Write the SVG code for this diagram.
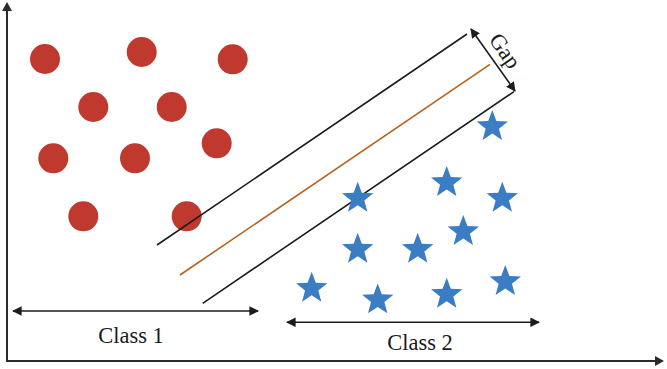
<svg xmlns="http://www.w3.org/2000/svg" xmlns:xlink="http://www.w3.org/1999/xlink" width="667" height="369" viewBox="0 0 667 369">
<style>
.dot{fill:#c0392f}
.star{fill:#3a7dc3}
.axis{stroke:#2b2b2b;stroke-width:2;fill:none}
.line{stroke:#1c1c1c;stroke-width:1.6;fill:none}
.mid{stroke:#b4621f;stroke-width:1.6;fill:none}
.lbl{font-family:"Liberation Serif","Times New Roman",serif;font-size:22.5px;fill:#1a1a1a}
</style>
<defs>
<marker id="ah" viewBox="0 0 10 10" refX="9" refY="5" markerWidth="6" markerHeight="6" orient="auto-start-reverse" markerUnits="strokeWidth">
<path d="M0,0 L10,5 L0,10 Z" fill="#1c1c1c"/>
</marker>
<path id="st" d="M0,-16.5 L4.11,-5.66 L15.69,-5.10 L6.66,2.16 L9.70,13.35 L0,7 L-9.70,13.35 L-6.66,2.16 L-15.69,-5.10 L-4.11,-5.66 Z"/>
</defs>
<rect width="667" height="369" fill="#ffffff"/>
<g id="axes">
<path class="axis" d="M7,8 L7,361 L658,361"/>
<path d="M7,2 L2,11 L12,11 Z" fill="#2b2b2b"/>
<path d="M664,361 L655,356 L655,366 Z" fill="#2b2b2b"/>
</g>
<g id="class1">
<circle id="c1" class="dot" cx="45" cy="59" r="15"/>
<circle id="c2" class="dot" cx="141.7" cy="52" r="15"/>
<circle id="c3" class="dot" cx="232.7" cy="59.3" r="15"/>
<circle id="c4" class="dot" cx="93.3" cy="107" r="15"/>
<circle id="c5" class="dot" cx="171.7" cy="107" r="15"/>
<circle id="c6" class="dot" cx="216.7" cy="143.3" r="15"/>
<circle id="c7" class="dot" cx="53.3" cy="158.3" r="15"/>
<circle id="c8" class="dot" cx="135" cy="158.3" r="15"/>
<circle id="c9" class="dot" cx="83.3" cy="216.3" r="15"/>
<circle id="c10" class="dot" cx="186.7" cy="216.3" r="15"/>
</g>
<g id="connectors">
<line class="line" x1="157" y1="245" x2="467" y2="34"/>
<line class="mid" x1="180" y1="275" x2="490" y2="64.3"/>
<line class="line" x1="202.7" y1="303.3" x2="514" y2="91.6"/>
<line class="line" x1="471" y1="29" x2="515" y2="91" marker-start="url(#ah)" marker-end="url(#ah)" stroke-width="1.8"/>
<line class="line" x1="13" y1="311" x2="258" y2="311" marker-start="url(#ah)" marker-end="url(#ah)" stroke-width="1.8"/>
<line class="line" x1="287" y1="322.3" x2="539" y2="322.3" marker-start="url(#ah)" marker-end="url(#ah)" stroke-width="1.8"/>
</g>
<g id="class2">
<use id="s1" class="star" xlink:href="#st" x="492.3" y="126.6"/>
<use id="s2" class="star" xlink:href="#st" x="446.7" y="182.6"/>
<use id="s3" class="star" xlink:href="#st" x="357.7" y="198.3"/>
<use id="s4" class="star" xlink:href="#st" x="502.3" y="198.3"/>
<use id="s5" class="star" xlink:href="#st" x="463.3" y="231.6"/>
<use id="s6" class="star" xlink:href="#st" x="357.7" y="249.3"/>
<use id="s7" class="star" xlink:href="#st" x="417.7" y="249.3"/>
<use id="s8" class="star" xlink:href="#st" x="311.7" y="288.3"/>
<use id="s9" class="star" xlink:href="#st" x="377.7" y="299.9"/>
<use id="s10" class="star" xlink:href="#st" x="446.7" y="294.3"/>
<use id="s11" class="star" xlink:href="#st" x="505.3" y="281.6"/>
</g>
<g id="labels">
<text class="lbl" x="131" y="343" text-anchor="middle">Class 1</text>
<text class="lbl" x="420" y="350" text-anchor="middle">Class 2</text>
<text class="lbl" text-anchor="middle" transform="translate(499,55) rotate(55)">Gap</text>
</g>
</svg>
